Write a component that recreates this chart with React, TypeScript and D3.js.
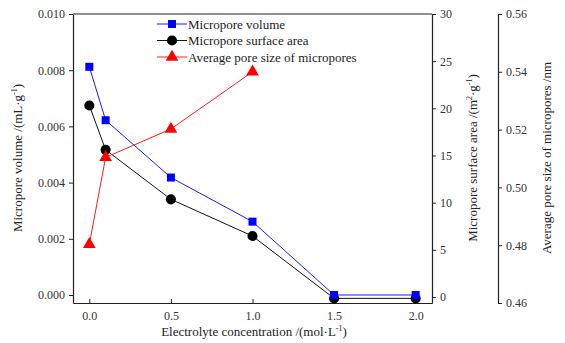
import React, { useEffect, useRef } from 'react'
import * as d3 from 'd3'

const concentration = [0, 0.1, 0.5, 1.0, 1.5, 2.0]
const microporeVolume = [0.00812, 0.00622, 0.00418, 0.00261, 0.0, 0.0]
const surfaceArea = [20.3, 15.6, 10.35, 6.46, -0.15, -0.15]
const poreSizeX = [0, 0.1, 0.5, 1.0]
const poreSize = [0.4803, 0.5104, 0.5202, 0.54]

const xTicks = [0, 0.5, 1.0, 1.5, 2.0]
const leftTicks = [0, 0.002, 0.004, 0.006, 0.008, 0.01]
const rightTicks = [0, 5, 10, 15, 20, 25, 30]
const farTicks = [0.46, 0.48, 0.5, 0.52, 0.54, 0.56]

const legendLabels = ['Micropore volume', 'Micropore surface area', 'Average pore size of micropores']

const FONT = '"Liberation Serif", "Times New Roman", serif'

export default function App() {
  const ref = useRef<SVGSVGElement>(null)

  useEffect(() => {
    const svg = d3.select(ref.current)
    svg.selectAll('*').remove()
    const m = { left: 73, top: 14, right: 432, bottom: 303 }
    const farX = 498

    const x = d3.scaleLinear().domain([-0.1, 2.1]).range([m.left, m.right])
    const yL = d3.scaleLinear().domain([-0.000285, 0.01]).range([m.bottom, m.top])
    const yR = d3.scaleLinear().domain([-0.64, 30]).range([m.bottom, m.top])
    const yF = d3.scaleLinear().domain([0.46, 0.56]).range([m.bottom, m.top])

    const styleAxis = (g: any) => {
      g.selectAll('path').attr('stroke', '#222').attr('stroke-width', 1.2)
      g.selectAll('line').attr('stroke', '#222')
      g.selectAll('text').attr('font-family', FONT).attr('font-size', 12).attr('fill', '#333')
    }

    // bottom axis, ticks pointing inward
    svg.append('g')
      .attr('transform', `translate(0,${m.bottom})`)
      .call(d3.axisBottom(x).tickValues(xTicks).tickFormat(d3.format('.1f')).tickSizeInner(-4).tickSizeOuter(0).tickPadding(8))
      .call(styleAxis)

    svg.append('g')
      .attr('transform', `translate(${m.left},0)`)
      .call(d3.axisLeft(yL).tickValues(leftTicks).tickFormat(d3.format('.3f')).tickSizeInner(4).tickSizeOuter(0).tickPadding(4))
      .call(styleAxis)

    svg.append('g')
      .attr('transform', `translate(${m.right},0)`)
      .call(d3.axisRight(yR).tickValues(rightTicks).tickFormat(d3.format('d')).tickSizeInner(4).tickSizeOuter(0).tickPadding(4))
      .call(styleAxis)

    svg.append('g')
      .attr('transform', `translate(${farX},0)`)
      .call(d3.axisRight(yF).tickValues(farTicks).tickFormat(d3.format('.2f')).tickSizeInner(4).tickSizeOuter(0).tickPadding(4))
      .call(styleAxis)

    // top frame
    svg.append('line')
      .attr('x1', m.left).attr('x2', m.right).attr('y1', m.top).attr('y2', m.top)
      .attr('stroke', '#222').attr('stroke-width', 1.2)

    const sq = d3.symbol().type(d3.symbolSquare).size(64)
    const ci = d3.symbol().type(d3.symbolCircle).size(80)
    const tri = d3.symbol().type(d3.symbolTriangle).size(70)

    // black
    const lineR = d3.line<number>().x((d, i) => x(concentration[i])).y(d => yR(d))
    svg.append('path').attr('d', lineR(surfaceArea)).attr('fill', 'none').attr('stroke', '#111').attr('stroke-width', 1)
    // blue
    const lineL = d3.line<number>().x((d, i) => x(concentration[i])).y(d => yL(d))
    svg.append('path').attr('d', lineL(microporeVolume)).attr('fill', 'none').attr('stroke', '#1a1aff').attr('stroke-width', 1)
    // red
    const lineF = d3.line<number>().x((d, i) => x(poreSizeX[i])).y(d => yF(d))
    svg.append('path').attr('d', lineF(poreSize)).attr('fill', 'none').attr('stroke', '#ff1a1a').attr('stroke-width', 1)

    svg.selectAll('.c').data(surfaceArea).enter().append('path')
      .attr('d', ci).attr('fill', '#000')
      .attr('transform', (d, i) => `translate(${x(concentration[i])},${yR(d)})`)
    svg.selectAll('.s').data(microporeVolume).enter().append('path')
      .attr('d', sq).attr('fill', '#0000ff')
      .attr('transform', (d, i) => `translate(${x(concentration[i])},${yL(d)})`)
    svg.selectAll('.t').data(poreSize).enter().append('path')
      .attr('d', tri).attr('fill', '#ff0000')
      .attr('transform', (d, i) => `translate(${x(poreSizeX[i])},${yF(d)})`)

    // legend
    const legColors = ['#1a1aff', '#111', '#ff1a1a']
    const legFill = ['#0000ff', '#000', '#ff0000']
    const legSyms = [sq, ci, tri]
    legendLabels.forEach((lab, i) => {
      const ly = 24 + i * 16.5
      svg.append('line').attr('x1', 157).attr('x2', 187).attr('y1', ly).attr('y2', ly)
        .attr('stroke', legColors[i]).attr('stroke-width', 1)
      svg.append('path').attr('d', legSyms[i]).attr('fill', legFill[i])
        .attr('transform', `translate(172,${ly})`)
      svg.append('text').attr('x', 188).attr('y', ly + 4.5)
        .attr('font-family', FONT).attr('font-size', 13).attr('fill', '#222').text(lab)
    })

    // axis titles
    const title = (tx: number, ty: number, rot: number, parts: [string, boolean][]) => {
      const t = svg.append('text')
        .attr('transform', `translate(${tx},${ty}) rotate(${rot})`)
        .attr('text-anchor', 'middle').attr('font-family', FONT).attr('font-size', 13).attr('fill', '#222')
      parts.forEach(([s, sup], k) => {
        const prev = k > 0 && parts[k - 1][1]
        t.append('tspan')
          .attr('dy', sup ? -5 : prev ? 5 : 0)
          .attr('font-size', sup ? 8 : 13)
          .text(s)
      })
    }
    title(254, 336, 0, [['Electrolyte concentration /(mol·L', false], ['-1', true], [')', false]])
    title(22, 158, -90, [['Micropore volume /(mL·g', false], ['-1', true], [')', false]])
    title(477, 158, -90, [['Micropore surface area /(m', false], ['2', true], ['·g', false], ['-1', true], [')', false]])
    title(551, 158, -90, [['Average pore size of micropores /nm', false]])
  }, [])

  return (
    <div>
      <svg ref={ref} width={565} height={343} style={{ position: 'absolute', left: 0, top: 0, background: '#fff' }} />
    </div>
  )
}
